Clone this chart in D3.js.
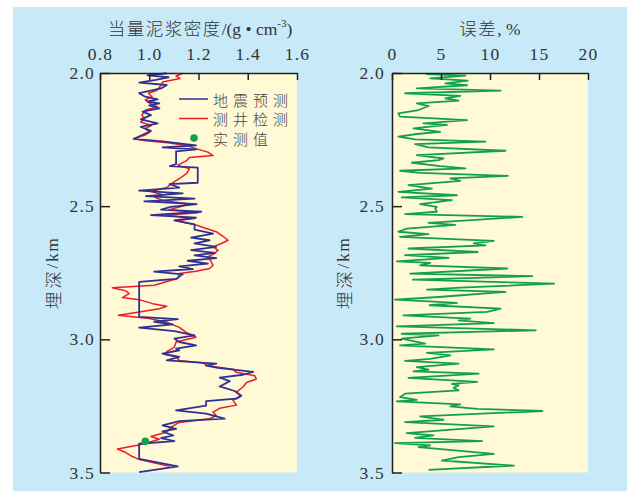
<!DOCTYPE html>
<html><head><meta charset="utf-8">
<script src="https://cdn.jsdelivr.net/npm/d3@7"></script>
<style>body{margin:0;background:#fff} svg{display:block}</style>
</head><body><svg id="c" width="627" height="491"></svg>
<script>
const depthTicks = [2.0, 2.5, 3.0, 3.5];
const densityTicks = [0.8, 1.0, 1.2, 1.4, 1.6];
const errorTicks = [0, 5, 10, 15, 20];
const legendLabels = ["地震预测", "测井检测", "实测值"];

const blueDepth = [2.001,2.009,2.016,2.026,2.036,2.045,2.058,2.076,2.089,2.099,2.107,2.114,2.122,2.133,2.145,2.158,2.174,2.189,2.202,2.217,2.229,2.247,2.257,2.272,2.279,2.287,2.294,2.342,2.350,2.355,2.412,2.417,2.430,2.442,2.452,2.462,2.472,2.482,2.492,2.503,2.513,2.521,2.534,2.543,2.553,2.568,2.588,2.603,2.618,2.628,2.640,2.653,2.665,2.675,2.685,2.695,2.705,2.716,2.726,2.736,2.746,2.756,2.773,2.784,2.916,2.924,2.934,2.944,2.956,2.969,2.985,2.997,3.010,3.023,3.035,3.041,3.054,3.066,3.079,3.091,3.099,3.107,3.122,3.133,3.144,3.157,3.177,3.194,3.212,3.223,3.232,3.249,3.267,3.279,3.298,3.307,3.323,3.336,3.346,3.361,3.371,3.382,3.392,3.449,3.477,3.499];
const blueDensity = [1.071,0.993,1.079,1.027,0.959,1.071,1.048,0.959,0.984,1.034,0.993,1.041,1.000,1.041,0.973,1.007,0.966,1.034,0.966,1.007,0.980,0.939,1.054,1.190,1.054,1.190,1.109,1.109,1.084,1.197,1.197,1.082,1.122,0.959,1.136,0.986,1.184,0.980,1.193,1.088,1.048,1.211,1.007,1.190,1.102,1.184,1.184,1.259,1.170,1.245,1.184,1.272,1.170,1.265,1.184,1.272,1.156,1.238,1.122,1.177,1.020,1.136,1.109,0.959,0.959,1.116,1.020,1.095,0.959,1.102,1.184,1.102,1.122,1.190,1.109,1.122,1.054,1.122,1.071,1.272,1.231,1.279,1.422,1.381,1.286,1.327,1.286,1.347,1.374,1.354,1.231,1.231,1.109,1.231,1.306,1.122,1.054,1.109,1.054,1.098,1.048,1.102,0.959,0.959,1.116,0.959];

const redDepth = [2.001,2.011,2.021,2.034,2.051,2.066,2.076,2.089,2.101,2.114,2.127,2.139,2.158,2.172,2.184,2.197,2.209,2.222,2.234,2.247,2.254,2.262,2.272,2.284,2.297,2.310,2.317,2.330,2.346,2.360,2.377,2.397,2.415,2.430,2.445,2.457,2.467,2.480,2.492,2.503,2.513,2.525,2.534,2.546,2.555,2.571,2.584,2.596,2.613,2.628,2.640,2.653,2.665,2.678,2.690,2.709,2.722,2.734,2.744,2.753,2.772,2.784,2.797,2.806,2.818,2.828,2.843,2.851,2.866,2.876,2.885,2.897,2.910,2.922,2.935,2.955,2.974,2.992,3.010,3.029,3.044,3.056,3.066,3.079,3.089,3.099,3.112,3.124,3.137,3.149,3.162,3.179,3.198,3.212,3.229,3.247,3.259,3.273,3.286,3.298,3.312,3.330,3.348,3.365,3.375,3.386,3.398,3.412,3.425,3.437,3.450,3.465,3.477];
const redDensity = [1.136,1.109,1.125,1.054,1.044,1.030,0.997,1.011,0.984,1.003,1.034,0.986,0.970,0.981,0.965,1.008,0.984,1.003,0.981,0.935,0.986,1.075,1.152,1.190,1.238,1.259,1.163,1.150,1.116,1.163,1.152,1.122,1.090,1.071,1.007,1.054,1.024,1.061,1.163,1.122,1.082,1.197,1.068,1.184,1.109,1.190,1.231,1.272,1.299,1.320,1.293,1.259,1.279,1.265,1.238,1.252,1.259,1.245,1.190,1.122,1.116,1.068,1.020,0.850,0.905,0.918,0.891,0.959,1.014,1.071,1.041,0.959,0.875,1.000,1.068,1.122,1.150,1.190,1.109,1.102,1.075,1.061,1.109,1.122,1.218,1.238,1.340,1.354,1.429,1.435,1.395,1.381,1.354,1.370,1.340,1.354,1.286,1.259,1.272,1.245,1.122,1.088,1.071,1.007,1.041,1.000,0.952,0.871,0.905,0.925,0.956,1.027,1.082];

const measuredDepth = [3.383];
const measuredDensity = [0.984];

const errDepth = [2.004,2.010,2.020,2.029,2.039,2.046,2.058,2.066,2.076,2.086,2.095,2.104,2.114,2.124,2.139,2.152,2.164,2.177,2.189,2.195,2.208,2.221,2.229,2.239,2.249,2.258,2.267,2.279,2.292,2.308,2.321,2.327,2.337,2.350,2.358,2.367,2.375,2.386,2.396,2.405,2.421,2.434,2.446,2.459,2.467,2.477,2.492,2.503,2.509,2.521,2.530,2.540,2.563,2.570,2.584,2.596,2.605,2.615,2.630,2.640,2.647,2.659,2.672,2.684,2.694,2.707,2.713,2.722,2.734,2.753,2.763,2.776,2.791,2.806,2.813,2.822,2.841,2.851,2.863,2.872,2.885,2.897,2.910,2.922,2.929,2.939,2.951,2.966,2.979,2.985,2.997,3.016,3.023,3.038,3.051,3.060,3.073,3.081,3.091,3.104,3.114,3.120,3.129,3.145,3.160,3.167,3.173,3.182,3.192,3.204,3.217,3.227,3.233,3.244,3.252,3.261,3.269,3.289,3.302,3.311,3.327,3.352,3.361,3.370,3.382,3.390,3.398,3.405,3.430,3.442,3.455,3.474,3.490];
const errValue = [3.49,7.49,3.90,7.73,5.44,7.66,2.53,11.08,1.33,6.97,5.44,6.80,2.53,3.73,2.70,0.65,0.82,7.66,3.21,5.61,2.19,4.92,2.53,0.65,2.36,9.54,2.36,3.73,11.59,2.53,5.26,4.75,2.02,4.92,7.49,0.82,2.87,11.83,5.95,6.97,1.68,4.07,0.65,6.63,0.99,6.12,2.87,4.58,4.41,4.58,1.33,13.30,3.73,6.46,1.50,0.65,3.73,0.82,10.39,8.34,9.54,1.68,8.75,1.33,5.78,0.48,3.90,2.87,11.76,1.85,14.32,2.12,16.55,6.97,3.56,11.59,4.75,0.31,6.63,3.83,11.08,9.71,1.16,8.00,6.80,10.39,0.48,14.67,0.99,4.75,0.99,3.38,0.82,10.39,3.56,5.95,3.90,1.33,6.80,2.53,3.73,2.19,8.85,1.68,8.68,6.12,6.80,6.29,6.80,1.33,0.82,2.53,0.48,6.97,5.95,8.68,15.35,2.87,5.26,1.33,10.39,1.50,4.24,2.36,9.20,0.31,3.90,2.70,10.39,6.80,5.09,12.44,3.73];

const svg = d3.select('#c');
const BLUE = '#2e3192', RED = '#ed1c24', GREEN = '#12a04b';
const TXT = '#333';
const CJK = 'Noto Sans CJK SC';
svg.append('rect').attr('x', 13).attr('y', 7).attr('width', 614).attr('height', 484).attr('fill', '#c8e9f8');

const y = d3.scaleLinear().domain([2.0, 3.5]).range([73, 472.5]);
const xL = d3.scaleLinear().domain([0.8, 1.6]).range([100, 297]);
const xR = d3.scaleLinear().domain([0, 20]).range([392, 588]);

function panel(x, xticks, fmt, labPad) {
  const [x0, x1] = x.range();
  svg.append('rect').attr('x', x0).attr('y', y(2.0)).attr('width', x1 - x0).attr('height', y(3.5) - y(2.0)).attr('fill', '#fff9d6');
  const g = svg.append('g');
  const top = g.append('g').attr('transform', `translate(0,${y(2.0)})`)
    .call(d3.axisTop(x).tickValues(xticks).tickFormat(fmt).tickSizeInner(-7).tickSizeOuter(0).tickPadding(13));
  const left = g.append('g').attr('transform', `translate(${x0},0)`)
    .call(d3.axisLeft(y).tickValues(depthTicks).tickFormat(d3.format('.1f')).tickSizeInner(-10).tickSizeOuter(0).tickPadding(labPad));
  [top, left].forEach(a => {
    a.select('.domain').attr('stroke', '#222').attr('stroke-width', 1.5);
    a.selectAll('.tick line').attr('stroke', '#222').attr('stroke-width', 1.5);
    a.selectAll('.tick text').attr('font-family', 'Liberation Serif').attr('font-size', 17.5).attr('fill', TXT).attr('letter-spacing', 1.2);
  });
  return g;
}

// left panel
const gL = panel(xL, densityTicks, d3.format('.1f'), 5);
const line = (xs) => d3.line().x(d => xs(d[1])).y(d => y(d[0]));
svg.append('path').datum(d3.zip(redDepth, redDensity)).attr('d', line(xL)).attr('fill', 'none').attr('stroke', RED).attr('stroke-width', 1.5).attr('stroke-linejoin', 'round');
svg.append('path').datum(d3.zip(blueDepth, blueDensity)).attr('d', line(xL)).attr('fill', 'none').attr('stroke', BLUE).attr('stroke-width', 1.8).attr('stroke-linejoin', 'round');
svg.selectAll('circle.m').data(d3.zip(measuredDepth, measuredDensity)).join('circle').attr('class', 'm')
  .attr('cx', d => xL(d[1])).attr('cy', d => y(d[0])).attr('r', 3.8).attr('fill', GREEN);
gL.raise();

// right panel
const gR = panel(xR, errorTicks, d3.format('d'), 7);
svg.append('path').datum(d3.zip(errDepth, errValue)).attr('d', line(xR)).attr('fill', 'none').attr('stroke', GREEN).attr('stroke-width', 1.8).attr('stroke-linejoin', 'round');
gR.raise();

// titles
const tL = svg.append('text').attr('x', 200).attr('y', 35).attr('text-anchor', 'middle')
  .attr('font-family', 'Liberation Serif').attr('font-size', 17.5).attr('fill', TXT);
tL.append('tspan').attr('font-family', CJK).attr('font-weight', 300).attr('letter-spacing', 1.5).text('当量泥浆密度');
tL.append('tspan').text('/(g • cm');
tL.append('tspan').attr('font-size', 11).attr('dy', -8).text('-3');
tL.append('tspan').attr('dy', 8).text(')');

const tR = svg.append('text').attr('x', 490).attr('y', 35).attr('text-anchor', 'middle')
  .attr('font-family', 'Liberation Serif').attr('font-size', 17.5).attr('fill', TXT);
tR.append('tspan').attr('font-family', CJK).attr('font-weight', 300).attr('letter-spacing', 1.5).text('误差');
tR.append('tspan').text(', %');

[52, 343].forEach(cx => {
  const t = svg.append('text').attr('transform', `translate(${cx},273) rotate(-90)`).attr('text-anchor', 'middle')
    .attr('dominant-baseline', 'central').attr('font-size', 17.5).attr('fill', TXT);
  t.append('tspan').attr('font-family', CJK).attr('font-weight', 300).attr('letter-spacing', 3).text('埋深');
  t.append('tspan').attr('font-family', 'Liberation Serif').attr('letter-spacing', 1.5).text('/km');
});

// legend
const lg = svg.append('g');
const rows = [99, 118.5, 138];
lg.append('line').attr('x1', 179).attr('x2', 208).attr('y1', rows[0]).attr('y2', rows[0]).attr('stroke', BLUE).attr('stroke-width', 1.5);
lg.append('line').attr('x1', 179).attr('x2', 208).attr('y1', rows[1]).attr('y2', rows[1]).attr('stroke', RED).attr('stroke-width', 1.5);
lg.append('circle').attr('cx', 194).attr('cy', rows[2]).attr('r', 3.8).attr('fill', GREEN);
legendLabels.forEach((s, i) => {
  lg.append('text').attr('x', 213).attr('y', rows[i]).attr('dominant-baseline', 'central')
    .attr('font-family', CJK).attr('font-weight', 300).attr('font-size', 15).attr('letter-spacing', 5).attr('fill', '#444').text(s);
});
</script></body></html>
